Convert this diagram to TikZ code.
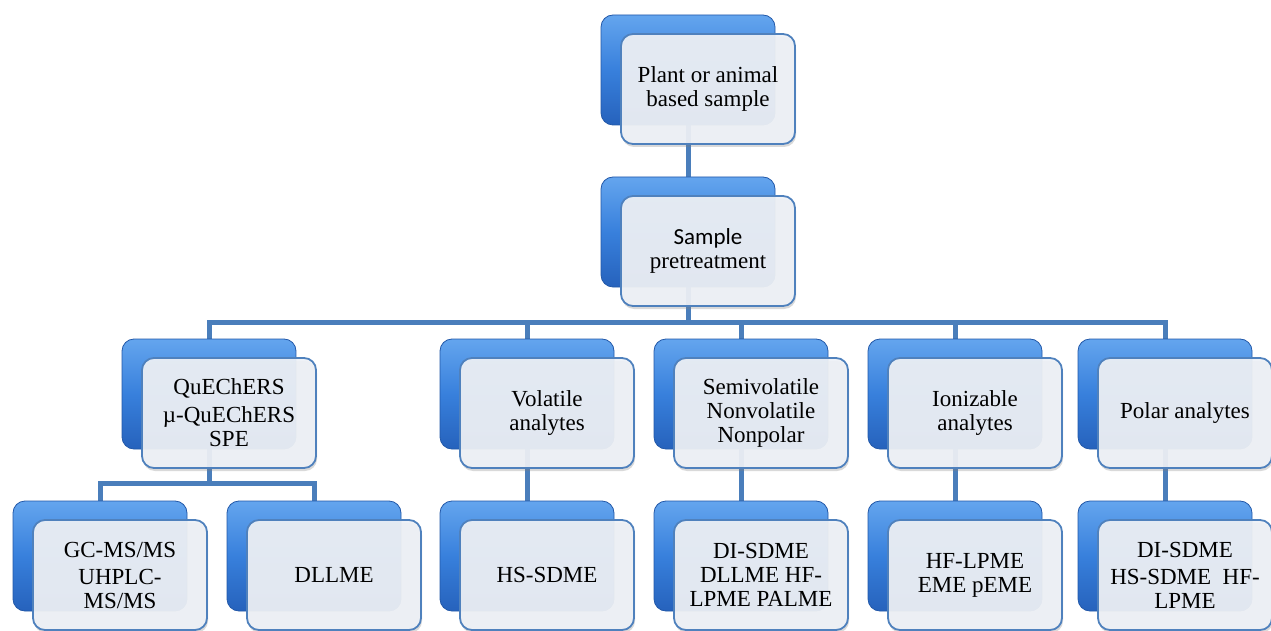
\documentclass[tikz,border=0pt]{standalone}
\usepackage{fontspec}
\setmainfont{Liberation Serif}
\newfontfamily\calibri{Carlito}
\usetikzlibrary{shadows,backgrounds}
\definecolor{linkblue}{RGB}{74,126,187}
\definecolor{boxtop}{RGB}{100,165,238}
\definecolor{boxmid}{RGB}{56,128,220}
\definecolor{boxbot}{RGB}{38,98,188}
\definecolor{boxedge}{RGB}{34,88,168}
\definecolor{cardfill}{RGB}{238,241,246}
\definecolor{cardline}{RGB}{79,129,189}
\tikzset{
    back/.style={minimum width=174pt, minimum height=110pt, rounded corners=12pt,
        top color=boxtop, bottom color=boxbot, middle color=boxmid,
        draw=boxedge, line width=0.8pt},
    card/.style={minimum width=174pt, minimum height=110pt, rounded corners=12pt,
        fill=cardfill, fill opacity=0.93, text opacity=1,
        draw=cardline, line width=1.8pt, align=center,
        font=\fontsize{23}{24}\selectfont,
        drop shadow={opacity=0.3, shadow xshift=1pt, shadow yshift=-3pt}},
    link/.style={linkblue, line width=5pt},
    duo/.pic={
        % blue block behind
        \node[back] (-b) at (0,0) {};
        % pale card in front
        \node[card] (-f) at (20,19) {#1};
    }
}
\begin{document}
\begin{tikzpicture}[x=1pt,y=-1pt]
    \useasboundingbox (0,0) rectangle (1271,631);
    % top of the tree
    \pic (top) at (688,70) {duo={Plant or animal\\based sample}};
    \pic (pre) at (688,232) {duo={\calibri Sample\\pretreatment}};
    % third row
    \pic (que) at (209,394) {duo={QuEChERS\\[4pt]µ-QuEChERS\\SPE}};
    \pic (vol) at (527,394) {duo={Volatile\\analytes}};
    \pic (semi) at (741,394) {duo={Semivolatile\\Nonvolatile\\Nonpolar}};
    \pic (ion) at (955,394) {duo={Ionizable\\analytes}};
    \pic (pol) at (1165,394) {duo={Polar analytes}};
    % bottom row
    \pic (gc) at (100,556) {duo={GC-MS/MS\\[3pt]UHPLC-\\MS/MS}};
    \pic (dll) at (314,556) {duo={DLLME}};
    \pic (hs) at (527,556) {duo={HS-SDME}};
    \pic (di) at (741,556) {duo={DI-SDME\\DLLME HF-\\LPME PALME}};
    \pic (hf) at (955,556) {duo={HF-LPME\\EME pEME}};
    \pic (polx) at (1165,556) {duo={DI-SDME\\[3pt]HS-SDME~~HF-\\LPME}};
    \begin{scope}[on background layer]
        \draw[link] (top-b.south) -- (pre-b.north);
        \coordinate (hub) at (688,322);
        \foreach \n in {que,vol,semi,ion,pol}
            \draw[link] (pre-b.south) -- (hub) -| (\n-b.north);
        \coordinate (fork) at (209,483);
        \foreach \n in {gc,dll}
            \draw[link] (que-b.south) -- (fork) -| (\n-b.north);
        \draw[link] (vol-b.south) -- (hs-b.north);
        \draw[link] (semi-b.south) -- (di-b.north);
        \draw[link] (ion-b.south) -- (hf-b.north);
        \draw[link] (pol-b.south) -- (polx-b.north);
    \end{scope}
\end{tikzpicture}
\end{document}
